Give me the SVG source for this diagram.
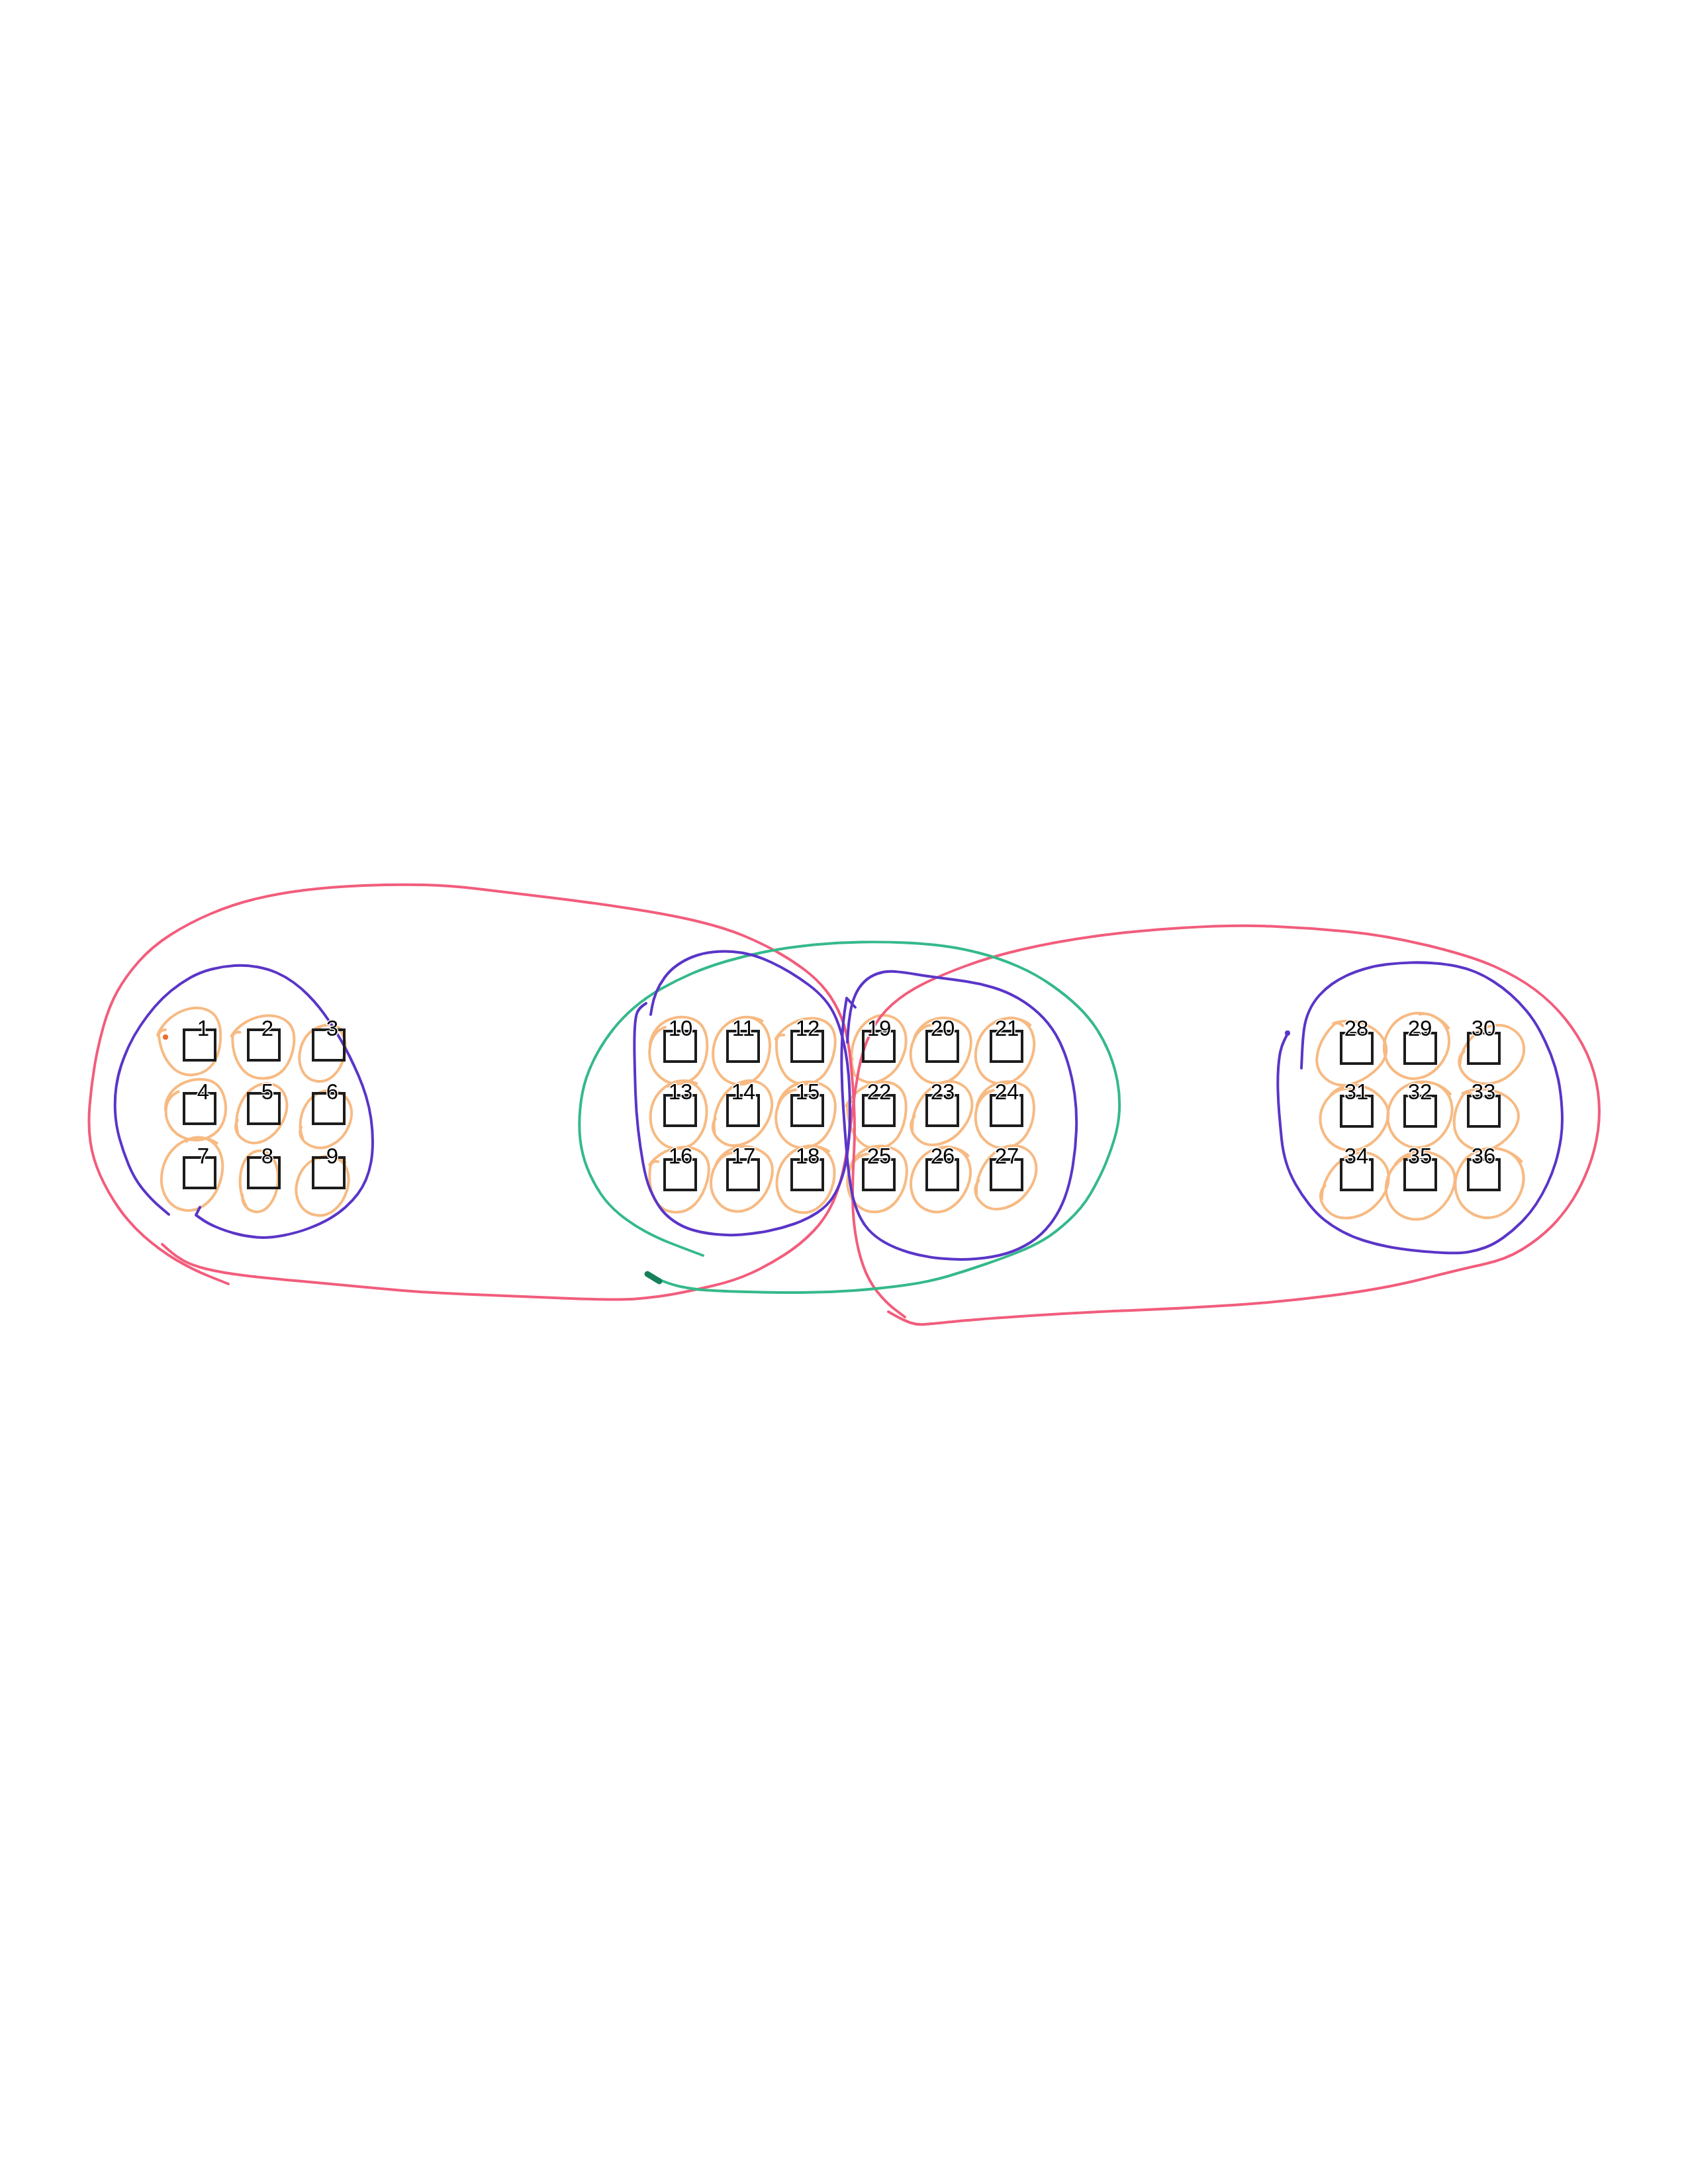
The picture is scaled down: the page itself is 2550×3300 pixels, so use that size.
<svg xmlns="http://www.w3.org/2000/svg" xmlns:xlink="http://www.w3.org/1999/xlink" width="2550" height="3300" viewBox="0 0 2550 3300">
<style>
.box{fill:none;stroke:#1c1c1c;stroke-width:4}
.lbl{font-family:"Liberation Sans",Arial,sans-serif;font-size:33px;fill:#000;text-anchor:middle;stroke:#fff;stroke-width:3;paint-order:stroke}
.loop{fill:none;stroke:#f5a964;stroke-width:4;stroke-linecap:round;stroke-linejoin:round;opacity:.8}
.red{fill:none;stroke:#f25d7c;stroke-width:4;stroke-linecap:round;stroke-linejoin:round}
.pur{fill:none;stroke:#5a35c8;stroke-width:4;stroke-linecap:round;stroke-linejoin:round}
.grn{fill:none;stroke:#35b98a;stroke-width:4;stroke-linecap:round;stroke-linejoin:round}
</style>
<defs>
<path id="oa" vector-effect="non-scaling-stroke" d="M-46,-4 C-44,-40 -5,-58 24,-46 C46,-36 50,0 40,24 C30,48 4,58 -18,48 C-40,38 -50,14 -44,-10 C-41,-20 -34,-28 -24,-32"/>
<path id="ob" vector-effect="non-scaling-stroke" d="M20,-50 C-15,-58 -46,-30 -44,4 C-42,36 -18,56 8,52 C34,48 48,22 44,-8 C40,-36 20,-54 -4,-50 C-14,-48 -20,-44 -24,-38"/>
<path id="oc" vector-effect="non-scaling-stroke" d="M-50,-8 C-36,-42 8,-60 32,-42 C50,-28 48,10 36,32 C22,54 -6,58 -24,44 C-40,30 -46,10 -48,-6 C-49,-12 -44,-16 -38,-16"/>
<path id="od" vector-effect="non-scaling-stroke" d="M-30,40 C-48,10 -40,-40 -4,-52 C30,-60 50,-30 42,4 C36,34 10,56 -14,50 C-30,46 -40,34 -36,20"/>
</defs>
<rect width="2550" height="3300" fill="#fff"/>

<g id="loops" class="loop">
<use href="#oc" transform="translate(288,1572)"/>
<use href="#oc" transform="translate(398,1580) rotate(8) scale(1,0.95)"/>
<use href="#ob" transform="translate(487,1590) rotate(20) scale(0.75,0.85)"/>
<use href="#oa" transform="translate(296,1676) rotate(-5) scale(1,0.9)"/>
<use href="#od" transform="translate(393,1683) rotate(15) scale(0.85,0.9)"/>
<use href="#od" transform="translate(490,1692) rotate(10) scale(0.9,0.85)"/>
<use href="#ob" transform="translate(290,1772) rotate(20) scale(1,1.1)"/>
<use href="#od" transform="translate(390,1786) rotate(-5) scale(0.7,0.88)"/>
<use href="#ob" transform="translate(487,1790) rotate(25) scale(0.85,0.9)"/>

<use href="#oa" transform="translate(1025,1586) rotate(5) scale(0.95,1)"/>
<use href="#ob" transform="translate(1120,1586) rotate(15) scale(0.95,1)"/>
<use href="#oc" transform="translate(1217,1586) rotate(10) scale(0.95,1)"/>
<use href="#od" transform="translate(1325,1586) rotate(10) scale(0.95,1)"/>
<use href="#oa" transform="translate(1421,1586) rotate(20) scale(0.95,1)"/>
<use href="#ob" transform="translate(1518,1586) rotate(25) scale(0.95,1)"/>
<use href="#ob" transform="translate(1025,1683) rotate(10) scale(0.95,1)"/>
<use href="#od" transform="translate(1120,1683) rotate(20) scale(0.95,1)"/>
<use href="#oa" transform="translate(1217,1683) rotate(15) scale(0.95,1)"/>
<use href="#oc" transform="translate(1325,1683) rotate(5) scale(0.95,1)"/>
<use href="#od" transform="translate(1421,1683) rotate(25) scale(0.95,1)"/>
<use href="#oa" transform="translate(1518,1683) rotate(10) scale(0.95,1)"/>
<use href="#oc" transform="translate(1025,1780) rotate(15) scale(0.95,1)"/>
<use href="#oa" transform="translate(1120,1780) rotate(25) scale(0.95,1)"/>
<use href="#ob" transform="translate(1217,1780) rotate(20) scale(0.95,1)"/>
<use href="#oa" transform="translate(1325,1780) rotate(15) scale(0.95,1)"/>
<use href="#ob" transform="translate(1421,1780) rotate(30) scale(0.95,1)"/>
<use href="#od" transform="translate(1518,1780) rotate(25) scale(0.95,1)"/>

<use href="#oc" transform="translate(2040,1590) rotate(50) scale(1.0,1.05)"/>
<use href="#ob" transform="translate(2140,1578) rotate(40) scale(1.05,1.0)"/>
<use href="#od" transform="translate(2252,1594) rotate(35) scale(1.0,0.95)"/>
<use href="#oa" transform="translate(2045,1688) rotate(40) scale(1.05,1.0)"/>
<use href="#ob" transform="translate(2145,1682) rotate(35) scale(1.05,1.0)"/>
<use href="#oc" transform="translate(2243,1690) rotate(40) scale(1.0,0.95)"/>
<use href="#od" transform="translate(2045,1792) rotate(30) scale(1.05,1.05)"/>
<use href="#oa" transform="translate(2145,1790) rotate(35) scale(1.05,1.05)"/>
<use href="#ob" transform="translate(2250,1785) rotate(35) scale(1.12,1.05)"/>
</g>
<circle cx="250" cy="1567" r="4" fill="#f06a2a"/>

<g id="connectors">
<path class="red" d="M345,1940 L317.5,1929 Q290,1918 265,1903 Q240,1888 217.5,1868 Q195,1848 178.5,1824 Q162,1800 151,1775 Q140,1750 136.5,1725 Q133,1700 135.5,1670 Q138,1640 143,1610 Q148,1580 156.5,1550 Q165,1520 177.5,1497.5 Q190,1475 210,1452.5 Q230,1430 257.5,1412.5 Q285,1395 317.5,1381 Q350,1367 385,1358.5 Q420,1350 460,1345 Q500,1340 549,1338 Q598,1336 639,1337 Q680,1338 721.5,1343 Q763,1348 825.5,1355.5 Q888,1363 950,1372.5 Q1012,1382 1053.5,1392 Q1095,1402 1122.5,1413.5 Q1150,1425 1172.5,1437.5 Q1195,1450 1215,1465 Q1235,1480 1248.5,1497.5 Q1262,1515 1271,1537.5 Q1280,1560 1284,1595 Q1288,1630 1290,1668 Q1292,1706 1290,1743 Q1288,1780 1288,1807.5 Q1288,1835 1292,1862.5 Q1296,1890 1304,1912.5 Q1312,1935 1325,1951.5 Q1338,1968 1352.5,1979 L1367,1990"/>
<path class="red" d="M245,1880 L255,1889 Q265,1898 277.5,1905 Q290,1912 312.5,1917.5 Q335,1923 367.5,1927 Q400,1931 451,1935.5 Q502,1940 569,1946.5 Q636,1953 703,1955.5 Q770,1958 850,1961.5 Q930,1965 961.5,1962.5 Q993,1960 1019.5,1955 Q1046,1950 1078,1942.5 Q1110,1935 1135,1923.5 Q1160,1912 1185,1896 Q1210,1880 1229,1860 Q1248,1840 1259,1815 Q1270,1790 1276.5,1755 Q1283,1720 1287,1685 Q1291,1650 1297,1617.5 Q1303,1585 1315.5,1560 Q1328,1535 1348,1517.5 Q1368,1500 1394,1487 Q1420,1474 1457.5,1460 Q1495,1446 1544.5,1434.5 Q1594,1423 1651.5,1415 Q1709,1407 1785.5,1402 Q1862,1397 1919.5,1399.5 Q1977,1402 2034.5,1407.5 Q2092,1413 2156.5,1428.5 Q2221,1444 2257,1460 Q2293,1476 2319,1495.5 Q2345,1515 2365,1540 Q2385,1565 2397.5,1592.5 Q2410,1620 2414,1650 Q2418,1680 2414,1708.5 Q2410,1737 2400,1763.5 Q2390,1790 2376,1812.5 Q2362,1835 2343.5,1853.5 Q2325,1872 2300,1887.5 Q2275,1903 2240.5,1910.5 Q2206,1918 2149,1932.5 Q2092,1947 2015.5,1957 Q1939,1967 1862.5,1972 Q1786,1977 1709.5,1980 Q1633,1983 1556.5,1988 Q1480,1993 1445,1996.5 Q1410,2000 1397.5,2001 Q1385,2002 1375,1998.5 Q1365,1995 1353.5,1988.5 L1342,1982"/>
<path class="grn" d="M1062,1897 L1046,1891 Q1030,1885 1012,1878 Q994,1871 974.5,1860.5 Q955,1850 937,1835.5 Q919,1821 907,1803 Q895,1785 887,1764.5 Q879,1744 876.5,1722 Q874,1700 876.5,1674.5 Q879,1649 885.5,1629.5 Q892,1610 902.5,1591 Q913,1572 926.5,1555 Q940,1538 958,1522.5 Q976,1507 998,1494.5 Q1020,1482 1044,1471.5 Q1068,1461 1099,1452 Q1130,1443 1162,1437 Q1194,1431 1229.5,1427.5 Q1265,1424 1301.5,1423.5 Q1338,1423 1369,1424.5 Q1400,1426 1426.5,1429.5 Q1453,1433 1481.5,1440.5 Q1510,1448 1537.5,1460 Q1565,1472 1588.5,1488.5 Q1612,1505 1628.5,1521 Q1645,1537 1656.5,1554.5 Q1668,1572 1676,1592 Q1684,1612 1688,1633.5 Q1692,1655 1691,1677.5 Q1690,1700 1683,1722.5 Q1676,1745 1668,1763.5 Q1660,1782 1647.5,1803.5 Q1635,1825 1614.5,1844 Q1594,1863 1577,1873 Q1560,1883 1539,1891.5 Q1518,1900 1489,1910 Q1460,1920 1431.5,1928.5 Q1403,1937 1366.5,1942 Q1330,1947 1290,1950 Q1250,1953 1210,1953 Q1170,1953 1130,1952 Q1090,1951 1068,1949.5 Q1046,1948 1028,1944 Q1010,1940 994,1932.5 L978,1925"/>
<path d="M996,1936 L978,1925" fill="none" stroke="#16805a" stroke-width="9" stroke-linecap="round"/>
<path class="pur" d="M255,1835 L241.5,1823.5 Q228,1812 215.5,1796.5 Q203,1781 194.5,1760.5 Q186,1740 180.5,1720 Q175,1700 174,1680 Q173,1660 175.5,1642.5 Q178,1625 183,1610 Q188,1595 195,1580 Q202,1565 212,1550 Q222,1535 233.5,1521.5 Q245,1508 258.5,1497 Q272,1486 287,1477.5 Q302,1469 319.5,1464.5 Q337,1460 354.5,1459 Q372,1458 388.5,1461 Q405,1464 418.5,1470 Q432,1476 443.5,1484.5 Q455,1493 464.5,1502.5 Q474,1512 482,1522 Q490,1532 498,1544 Q506,1556 513.5,1569 Q521,1582 528,1596 Q535,1610 541.5,1625 Q548,1640 553,1656.5 Q558,1673 560.5,1690.5 Q563,1708 563,1725 Q563,1742 560.5,1756 Q558,1770 553,1782 Q548,1794 540.5,1804 Q533,1814 522.5,1823.5 Q512,1833 498.5,1841 Q485,1849 466.5,1856 Q448,1863 426.5,1867 Q405,1871 387.5,1869.5 Q370,1868 354,1863.5 Q338,1859 325.5,1853.5 Q313,1848 304.5,1842 L296,1836 L302,1824"/>
<path class="pur" d="M983,1533 L985,1521.5 Q987,1510 991.5,1499 Q996,1488 1004,1477 Q1012,1466 1023.5,1458 Q1035,1450 1048.5,1445 Q1062,1440 1077,1438.5 Q1092,1437 1107,1438 Q1122,1439 1136,1443 Q1150,1447 1165,1454 Q1180,1461 1194,1469.5 Q1208,1478 1221.5,1488 Q1235,1498 1245.5,1510 Q1256,1522 1263,1538.5 Q1270,1555 1275,1577.5 Q1280,1600 1282,1625 Q1284,1650 1284,1680 Q1284,1710 1281,1735 Q1278,1760 1272.5,1777.5 Q1267,1795 1258.5,1808.5 Q1250,1822 1235,1832 Q1220,1842 1200.5,1849 Q1181,1856 1160.5,1860 Q1140,1864 1120.5,1865.5 Q1101,1867 1081.5,1865 Q1062,1863 1046.5,1858.5 Q1031,1854 1018,1845 Q1005,1836 997,1824.5 Q989,1813 982.5,1798 Q976,1783 971.5,1758 Q967,1733 964,1706.5 Q961,1680 960,1651 Q959,1622 958.5,1596 Q958,1570 959,1552.5 Q960,1535 963,1529 Q966,1523 971,1519.5 L976,1516"/>
<path class="pur" d="M1292,1522 L1279,1508 L1276.5,1524 Q1274,1540 1272.5,1565 Q1271,1590 1271.5,1617.5 Q1272,1645 1274,1675 Q1276,1705 1278.5,1735 Q1281,1765 1284.5,1788.5 Q1288,1812 1295,1829.5 Q1302,1847 1312,1858 Q1322,1869 1337,1877.5 Q1352,1886 1373.5,1892.5 Q1395,1899 1422,1901.5 Q1449,1904 1474.5,1902 Q1500,1900 1520,1894 Q1540,1888 1557,1877 Q1574,1866 1587,1849 Q1600,1832 1608,1811 Q1616,1790 1620.5,1762.5 Q1625,1735 1626,1707.5 Q1627,1680 1623.5,1654 Q1620,1628 1612.5,1604 Q1605,1580 1594.5,1562.5 Q1584,1545 1569.5,1531.5 Q1555,1518 1537.5,1508 Q1520,1498 1500,1492 Q1480,1486 1460,1483 Q1440,1480 1420,1477.5 Q1400,1475 1382.5,1472 Q1365,1469 1351.5,1468 Q1338,1467 1326,1471 Q1314,1475 1305.5,1483.5 Q1297,1492 1292,1503.5 Q1287,1515 1284.5,1530 Q1282,1545 1281,1560 L1280,1575"/>
<path class="pur" d="M1966,1614 L1967,1592 Q1968,1570 1970,1555 Q1972,1540 1978,1527 Q1984,1514 1993,1504 Q2002,1494 2012,1487 Q2022,1480 2033.5,1474.5 Q2045,1469 2061.5,1464 Q2078,1459 2096,1457 Q2114,1455 2132,1454.5 Q2150,1454 2168,1455.5 Q2186,1457 2200.5,1460 Q2215,1463 2228.5,1468.5 Q2242,1474 2256,1483 Q2270,1492 2282.5,1503 Q2295,1514 2306.5,1528 Q2318,1542 2327,1559 Q2336,1576 2343,1594 Q2350,1612 2354,1631 Q2358,1650 2359.5,1675 Q2361,1700 2358,1720 Q2355,1740 2350,1756.5 Q2345,1773 2337.5,1789 Q2330,1805 2320.5,1819.5 Q2311,1834 2298,1847 Q2285,1860 2271,1870 Q2257,1880 2243.5,1885 Q2230,1890 2217,1892 Q2204,1894 2182,1893 Q2160,1892 2137,1889.5 Q2114,1887 2096,1883.5 Q2078,1880 2060.5,1874.5 Q2043,1869 2028,1861 Q2013,1853 2001,1843.5 Q1989,1834 1977.5,1819.5 Q1966,1805 1957,1789 Q1948,1773 1943,1756.5 Q1938,1740 1936,1720.5 Q1934,1701 1932.5,1683 Q1931,1665 1930.5,1647.5 Q1930,1630 1931,1615 Q1932,1600 1934,1590 Q1936,1580 1940.5,1571 L1945,1562"/>
<circle cx="1945" cy="1561" r="4" fill="#5a35c8"/>
</g>

<g id="node-1"><rect class="box" x="278" y="1556" width="47" height="46"/><text class="lbl" x="307" y="1565">1</text></g>
<g id="node-2"><rect class="box" x="375" y="1556" width="47" height="46"/><text class="lbl" x="404" y="1565">2</text></g>
<g id="node-3"><rect class="box" x="473" y="1556" width="47" height="46"/><text class="lbl" x="502" y="1565">3</text></g>
<g id="node-4"><rect class="box" x="278" y="1652" width="47" height="46"/><text class="lbl" x="307" y="1661">4</text></g>
<g id="node-5"><rect class="box" x="375" y="1652" width="47" height="46"/><text class="lbl" x="404" y="1661">5</text></g>
<g id="node-6"><rect class="box" x="473" y="1652" width="47" height="46"/><text class="lbl" x="502" y="1661">6</text></g>
<g id="node-7"><rect class="box" x="278" y="1749" width="47" height="46"/><text class="lbl" x="307" y="1758">7</text></g>
<g id="node-8"><rect class="box" x="375" y="1749" width="47" height="46"/><text class="lbl" x="404" y="1758">8</text></g>
<g id="node-9"><rect class="box" x="473" y="1749" width="47" height="46"/><text class="lbl" x="502" y="1758">9</text></g>

<g id="node-10"><rect class="box" x="1004" y="1558" width="47" height="46"/><text class="lbl" x="1028" y="1565">10</text></g>
<g id="node-11"><rect class="box" x="1099" y="1558" width="47" height="46"/><text class="lbl" x="1123" y="1565">11</text></g>
<g id="node-12"><rect class="box" x="1196" y="1558" width="47" height="46"/><text class="lbl" x="1220" y="1565">12</text></g>
<g id="node-19"><rect class="box" x="1304" y="1558" width="47" height="46"/><text class="lbl" x="1328" y="1565">19</text></g>
<g id="node-20"><rect class="box" x="1400" y="1558" width="47" height="46"/><text class="lbl" x="1424" y="1565">20</text></g>
<g id="node-21"><rect class="box" x="1497" y="1558" width="47" height="46"/><text class="lbl" x="1521" y="1565">21</text></g>
<g id="node-13"><rect class="box" x="1004" y="1655" width="47" height="46"/><text class="lbl" x="1028" y="1661">13</text></g>
<g id="node-14"><rect class="box" x="1099" y="1655" width="47" height="46"/><text class="lbl" x="1123" y="1661">14</text></g>
<g id="node-15"><rect class="box" x="1196" y="1655" width="47" height="46"/><text class="lbl" x="1220" y="1661">15</text></g>
<g id="node-22"><rect class="box" x="1304" y="1655" width="47" height="46"/><text class="lbl" x="1328" y="1661">22</text></g>
<g id="node-23"><rect class="box" x="1400" y="1655" width="47" height="46"/><text class="lbl" x="1424" y="1661">23</text></g>
<g id="node-24"><rect class="box" x="1497" y="1655" width="47" height="46"/><text class="lbl" x="1521" y="1661">24</text></g>
<g id="node-16"><rect class="box" x="1004" y="1752" width="47" height="46"/><text class="lbl" x="1028" y="1758">16</text></g>
<g id="node-17"><rect class="box" x="1099" y="1752" width="47" height="46"/><text class="lbl" x="1123" y="1758">17</text></g>
<g id="node-18"><rect class="box" x="1196" y="1752" width="47" height="46"/><text class="lbl" x="1220" y="1758">18</text></g>
<g id="node-25"><rect class="box" x="1304" y="1752" width="47" height="46"/><text class="lbl" x="1328" y="1758">25</text></g>
<g id="node-26"><rect class="box" x="1400" y="1752" width="47" height="46"/><text class="lbl" x="1424" y="1758">26</text></g>
<g id="node-27"><rect class="box" x="1497" y="1752" width="47" height="46"/><text class="lbl" x="1521" y="1758">27</text></g>

<g id="node-28"><rect class="box" x="2026" y="1561" width="47" height="46"/><text class="lbl" x="2049" y="1565">28</text></g>
<g id="node-29"><rect class="box" x="2122" y="1561" width="47" height="46"/><text class="lbl" x="2145" y="1565">29</text></g>
<g id="node-30"><rect class="box" x="2218" y="1561" width="47" height="46"/><text class="lbl" x="2241" y="1565">30</text></g>
<g id="node-31"><rect class="box" x="2026" y="1656" width="47" height="46"/><text class="lbl" x="2049" y="1661">31</text></g>
<g id="node-32"><rect class="box" x="2122" y="1656" width="47" height="46"/><text class="lbl" x="2145" y="1661">32</text></g>
<g id="node-33"><rect class="box" x="2218" y="1656" width="47" height="46"/><text class="lbl" x="2241" y="1661">33</text></g>
<g id="node-34"><rect class="box" x="2026" y="1752" width="47" height="46"/><text class="lbl" x="2049" y="1758">34</text></g>
<g id="node-35"><rect class="box" x="2122" y="1752" width="47" height="46"/><text class="lbl" x="2145" y="1758">35</text></g>
<g id="node-36"><rect class="box" x="2218" y="1752" width="47" height="46"/><text class="lbl" x="2241" y="1758">36</text></g>
</svg>
